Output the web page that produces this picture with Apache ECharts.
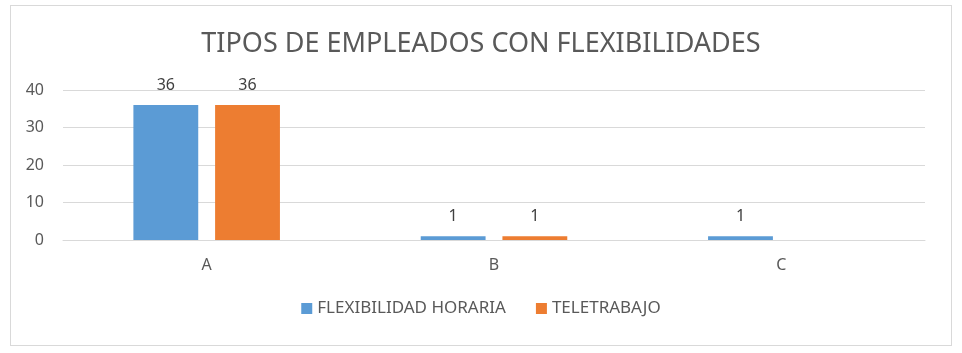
<!DOCTYPE html>
<html>
<head>
<meta charset="utf-8">
<script src="https://cdn.jsdelivr.net/npm/echarts@6/dist/echarts.min.js"></script>
<style>
  html, body { margin: 0; padding: 0; background: #fff; }
  #frame {
    position: absolute; left: 10px; top: 5px; width: 940px; height: 339px;
    border: 1px solid #d9d9d9; pointer-events: none;
  }
  #chart { width: 962px; height: 353px; }
</style>
</head>
<body>
<div id="chart"></div>
<div id="frame"></div>
<script>
const categories = ['A', 'B', 'C'];
const flexHoraria = [36, 1, 1];
const teletrabajo = [36, 1, null];
const yTicks = { min: 0, max: 40, interval: 10 };

const font = 'Noto Sans';
const chart = echarts.init(document.getElementById('chart'));

chart.setOption({
  animation: false,
  title: {
    text: 'TIPOS DE EMPLEADOS CON FLEXIBILIDADES',
    left: 'center',
    top: 26,
    textStyle: { color: '#595959', fontSize: 27, fontWeight: 'normal', fontFamily: font }
  },
  legend: {
    bottom: 31,
    left: 'center',
    itemWidth: 11,
    itemHeight: 11,
    itemGap: 30,
    icon: 'rect',
    textStyle: { color: '#595959', fontSize: 17, fontFamily: font }
  },
  grid: { left: 63, right: 37, top: 90, bottom: 113 },
  xAxis: {
    type: 'category',
    data: categories,
    axisLine: { lineStyle: { color: '#d9d9d9', width: 1 } },
    axisTick: { show: false },
    axisLabel: { color: '#595959', fontSize: 16, margin: 17, fontFamily: font }
  },
  yAxis: {
    type: 'value',
    min: yTicks.min,
    max: yTicks.max,
    interval: yTicks.interval,
    axisLine: { show: false },
    axisTick: { show: false },
    splitLine: { lineStyle: { color: '#d9d9d9', width: 1 } },
    axisLabel: { color: '#595959', fontSize: 16, margin: 19, fontFamily: font }
  },
  series: [
    {
      name: 'FLEXIBILIDAD HORARIA',
      type: 'bar',
      data: flexHoraria,
      barGap: '26%',
      barCategoryGap: '49%',
      itemStyle: { color: '#5b9bd5' },
      label: { show: true, position: 'top', distance: 12, color: '#404040', fontSize: 16, fontFamily: font }
    },
    {
      name: 'TELETRABAJO',
      type: 'bar',
      data: teletrabajo,
      itemStyle: { color: '#ed7d31' },
      label: { show: true, position: 'top', distance: 12, color: '#404040', fontSize: 16, fontFamily: font }
    }
  ]
});
</script>
</body>
</html>
